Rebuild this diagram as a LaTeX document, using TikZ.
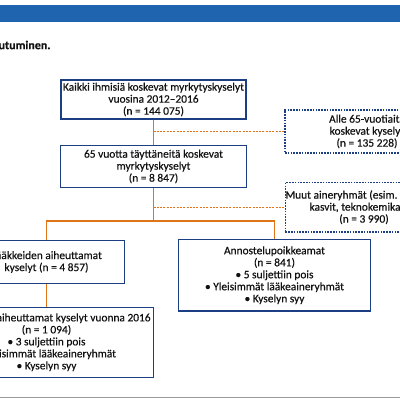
\documentclass[tikz,border=0pt]{standalone}
\usepackage{fontspec}
\setmainfont{Carlito}[FakeBold=0.4]
\newfontfamily\titlefont{Carlito}[FakeBold=0.6]
\definecolor{barblue}{HTML}{1F64AF}
\definecolor{navy}{HTML}{1C3F84}
\definecolor{orng}{HTML}{E07418}
\definecolor{grayline}{HTML}{9A9A9A}
\definecolor{txt}{HTML}{111111}
\begin{document}
\begin{tikzpicture}[x=1pt,y=-1pt,
  box/.style={draw=navy, line width=1.2pt, fill=white, align=center, inner sep=0pt,
    font=\fontsize{11.4}{12}\selectfont, text=txt},
  dbox/.style={box, line width=1.3pt, dash pattern=on 1.6pt off 1.2pt},
  link/.style={draw=orng, line width=1.4pt},
  dlink/.style={draw=orng, line width=1.4pt, dash pattern=on 2pt off 1.3pt}]
\clip (0,0) rectangle (400,400);
\fill[white] (0,0) rectangle (400,400);
\fill[barblue] (0,5) rectangle (400,22);
\node[anchor=east, inner sep=0pt, font=\titlefont\bfseries\fontsize{12}{12}\selectfont, text=txt] (title) at (50.7,45) {utuminen.};
\node[box, minimum width=185pt, minimum height=39pt] (b1) at (153.5,99.5)
  {Kaikki ihmisiä koskevat myrkytyskyselyt\\vuosina 2012–2016\\(n = 144 075)};
\node[box, minimum width=186.6pt, minimum height=42.4pt] (b2) at (153.5,166.5)
  {65 vuotta täyttäneitä koskevat\\myrkytyskyselyt\\(n = 8 847)};
\node[dbox, minimum width=164pt, minimum height=43pt] (d1) at (367,131.5)
  {Alle 65-vuotiaita\\koskevat kyselyt\\(n = 135 228)};
\node[dbox, minimum width=156pt, minimum height=49.5pt] (d2) at (364,207.25)
  {Muut aineryhmät (esim. päihteet,\\kasvit, teknokemikaalit)\\(n = 3 990)};
\node[box, minimum width=155.6pt, minimum height=42.8pt] (b3) at (46.5,262)
  {Lääkkeiden aiheuttamat\\kyselyt (n = 4 857)};
\node[box, minimum width=192.4pt, minimum height=71.7pt] (b4) at (274.5,275.2)
  {Annostelupoikkeamat\\(n = 841)\\• 5 suljettiin pois\\• Yleisimmät lääkeaineryhmät\\• Kyselyn syy};
\node[box, minimum width=213.6pt, minimum height=70pt] (b5) at (46.5,342.3)
  {Lääkkeiden aiheuttamat kyselyt vuonna 2016\\(n = 1 094)\\• 3 suljettiin pois\\• Yleisimmät lääkeaineryhmät\\• Kyselyn syy};
\coordinate (j) at (153.5,221);
\draw[dlink] (b1.south |- d1.west) -- (d1.west);
\draw[dlink] (b2.south |- d2.west) -- (d2.west);
\draw[link] (b1.south) -- (b2.north);
\draw[link] (b2.south) -- (j);
\draw[link] (b3.north) |- (j);
\draw[link] (b4.north) |- (j);
\draw[link] (b3.south) -- (b5.north);
\fill[grayline] (0,397.2) rectangle (400,398.4);
\end{tikzpicture}
\end{document}
